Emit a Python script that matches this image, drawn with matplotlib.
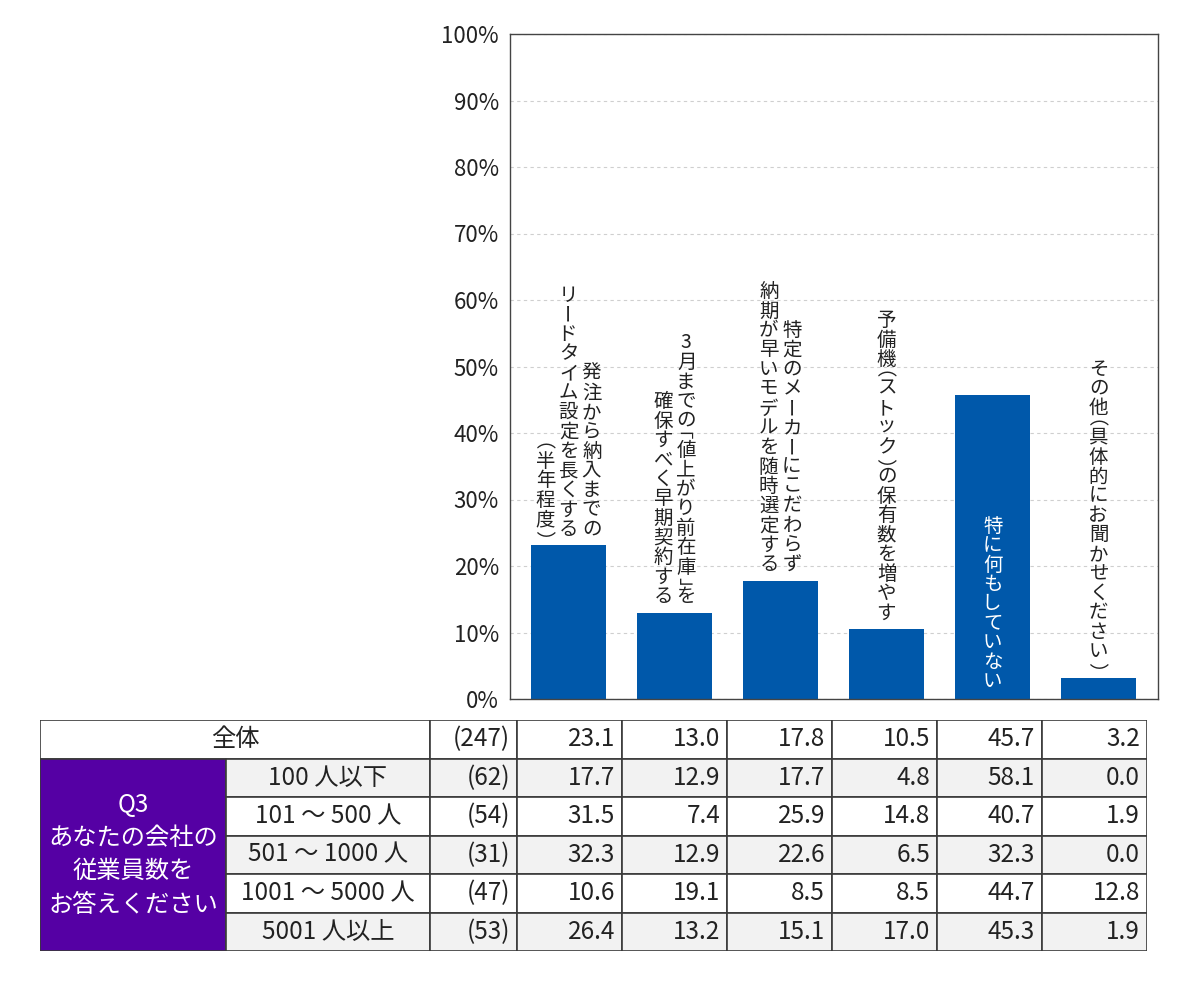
#!/usr/bin/env python3
import math
import matplotlib
matplotlib.use("Agg")
import matplotlib.pyplot as plt
from matplotlib.patches import Rectangle
from matplotlib.transforms import offset_copy
from matplotlib.textpath import TextPath
from matplotlib.font_manager import FontProperties

plt.rcParams["font.family"] = ["Noto Sans CJK JP", "DejaVu Sans"]

# --- data -------------------------------------------------------------
# each answer label is written vertically, columns read right -> left
bar_labels = [
    ["発注から納入までの", "リードタイム設定を長くする", "（半年程度）"],
    ["3月までの「値上がり前在庫」を", "確保すべく早期契約する"],
    ["特定のメーカーにこだわらず", "納期が早いモデルを随時選定する"],
    ["予備機（ストック）の保有数を増やす"],
    ["特に何もしていない"],
    ["その他（具体的にお聞かせください）"],
]
overall_label = "全体"
overall_n = 247
overall_values = [23.1, 13.0, 17.8, 10.5, 45.7, 3.2]

question_label = "Q3\nあなたの会社の\n従業員数を\nお答えください"
group_labels = ["100 人以下", "101 ～ 500 人", "501 ～ 1000 人", "1001 ～ 5000 人", "5001 人以上"]
group_n = [62, 54, 31, 47, 53]
group_values = [
    [17.7, 12.9, 17.7, 4.8, 58.1, 0.0],
    [31.5, 7.4, 25.9, 14.8, 40.7, 1.9],
    [32.3, 12.9, 22.6, 6.5, 32.3, 0.0],
    [10.6, 19.1, 8.5, 8.5, 44.7, 12.8],
    [26.4, 13.2, 15.1, 17.0, 45.3, 1.9],
]
y_ticks = [0, 10, 20, 30, 40, 50, 60, 70, 80, 90, 100]

BAR_COLOR = "#0058aa"
PURPLE = "#5500a4"
TEXT = "#222222"
ROW_GRAY = "#f2f2f2"
LINE = "#3a3a3a"

HALF = set("（）「」")          # brackets take half a cell in vertical text
ROTATE = set("（）「」ー－～")  # glyphs that turn in vertical writing
FP = FontProperties(family="Noto Sans CJK JP")


def glyph_ink(ch, size):
    """Ink box of a glyph relative to its pen origin, in points."""
    return TextPath((0, 0), ch, size=size, prop=FP).get_extents()


def vertical_label(ax, x, y, columns, color, size=14, pitch=19.5, col_gap=23, gap=8):
    """Lay out Japanese text top-to-bottom, columns right-to-left, bottom aligned at y."""
    fig = ax.figure
    px = fig.dpi / 72.0
    ncol = len(columns)
    for j, col in enumerate(columns):
        dx = ((ncol - 1) / 2 - j) * col_gap
        pos = gap
        for ch in reversed(col):
            h = pitch * (0.5 if ch in HALF else 1.0)
            rot = -90 if ch in ROTATE else 0
            ext = glyph_ink(ch, size)
            cx, cy = (ext.x0 + ext.x1) / 2, (ext.y0 + ext.y1) / 2
            # Agg shifts the glyph bitmap by its left bearing unrotated
            ux = cx - ext.x0
            a = math.radians(rot)
            rx = (ux * math.cos(a) - cy * math.sin(a) + ext.x0) * px
            ry = (ux * math.sin(a) + cy * math.cos(a)) * px
            tr = offset_copy(ax.transData, fig=fig, x=dx - rx, y=pos + h / 2 - ry, units="dots")
            ax.text(x, y, ch, transform=tr, ha="left", va="baseline",
                    rotation=rot, rotation_mode="anchor",
                    fontsize=size, color=color)
            pos += h


fig = plt.figure(figsize=(12, 10), dpi=100)

# --- bar chart --------------------------------------------------------
ax = fig.add_axes([510 / 1200, 1 - 699 / 1000, 648 / 1200, 665 / 1000])
xs = list(range(len(overall_values)))
ax.bar(xs, overall_values, width=0.71, color=BAR_COLOR, zorder=2)
ax.set_xlim(-0.552, 5.56)
ax.set_ylim(0, 100)
ax.set_yticks(y_ticks)
ax.set_yticklabels([f"{t}%" for t in y_ticks], fontsize=16, color=TEXT)
ax.set_xticks([])
ax.tick_params(axis="y", length=0, pad=8)
ax.yaxis.grid(True, color="#cfcfcf", linestyle=(0, (3, 3)), linewidth=0.8, zorder=0)
for sp in ax.spines.values():
    sp.set_color("#444444")
    sp.set_linewidth(1.0)

for x, v, lab in zip(xs, overall_values, bar_labels):
    if v > 40:
        vertical_label(ax, x, 0, lab, "white", gap=9)
    else:
        vertical_label(ax, x, v, lab, TEXT)

# --- table ------------------------------------------------------------
col_w = [186, 204, 87] + [105] * len(overall_values)
edges = [0]
for w in col_w:
    edges.append(edges[-1] + w)
n_rows = 1 + len(group_labels)

tax = fig.add_axes([40 / 1200, 1 - 951 / 1000, edges[-1] / 1200, 231 / 1000])
tax.set_xlim(0, edges[-1])
tax.set_ylim(n_rows, 0)
tax.axis("off")


def cell(ax, c0, c1, r0, r1, face):
    ax.add_patch(Rectangle((edges[c0], r0), edges[c1] - edges[c0], r1 - r0,
                           facecolor=face, edgecolor=LINE, linewidth=1.2))


TSIZE = 17.5
PAD = 7

# overall row
cell(tax, 0, 2, 0, 1, "white")
tax.text(edges[2] / 2, 0.5, overall_label, ha="center", va="center", fontsize=TSIZE, color=TEXT)
cell(tax, 2, 3, 0, 1, "white")
tax.text(edges[3] - PAD, 0.5, f"({overall_n})", ha="right", va="center", fontsize=TSIZE, color=TEXT)
for k, v in enumerate(overall_values):
    cell(tax, 3 + k, 4 + k, 0, 1, "white")
    tax.text(edges[4 + k] - PAD, 0.5, f"{v:.1f}", ha="right", va="center", fontsize=TSIZE, color=TEXT)

# question cell
cell(tax, 0, 1, 1, n_rows, PURPLE)
tax.text(edges[1] / 2, (1 + n_rows) / 2, question_label, ha="center", va="center",
         fontsize=TSIZE, color="white", linespacing=1.36)

# group rows
for i, (g, n, vals) in enumerate(zip(group_labels, group_n, group_values)):
    r = 1 + i
    face = ROW_GRAY if i % 2 == 0 else "white"
    cell(tax, 1, 2, r, r + 1, face)
    tax.text((edges[1] + edges[2]) / 2, r + 0.5, g, ha="center", va="center", fontsize=TSIZE, color=TEXT)
    cell(tax, 2, 3, r, r + 1, face)
    tax.text(edges[3] - PAD, r + 0.5, f"({n})", ha="right", va="center", fontsize=TSIZE, color=TEXT)
    for k, v in enumerate(vals):
        cell(tax, 3 + k, 4 + k, r, r + 1, face)
        tax.text(edges[4 + k] - PAD, r + 0.5, f"{v:.1f}", ha="right", va="center", fontsize=TSIZE, color=TEXT)

fig.savefig("out.png", dpi=100, facecolor="white")
